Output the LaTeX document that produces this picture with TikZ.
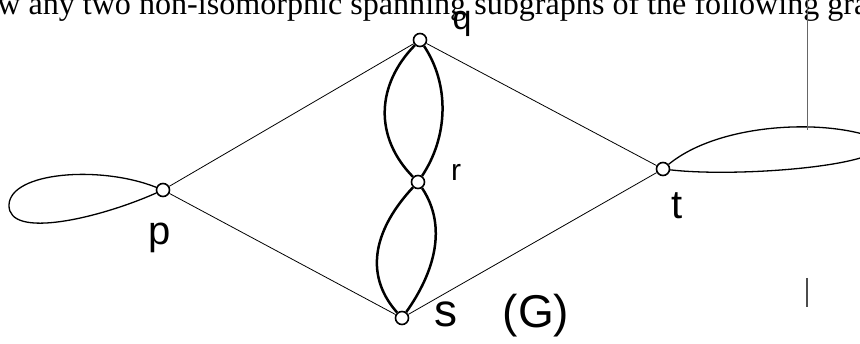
\documentclass[tikz,border=0pt]{standalone}
\usepackage{fontspec}
\setmainfont{Liberation Serif}
\newfontfamily\handfont{Liberation Sans}
\tikzset{
  vertex/.style={circle,draw,line width=1.6pt,minimum width=13pt,minimum height=11pt,inner sep=0pt},
  plain/.style={line width=0.8pt},
  thickedge/.style={line width=2.5pt},
  hand/.style={inner sep=0pt,font=\handfont\fontsize{40}{40}\selectfont}
}
\begin{document}
\begin{tikzpicture}[x=1pt,y=-1pt]

  % page frame and clip
  \useasboundingbox (0,0) rectangle (860,344);
  \clip (0,0) rectangle (860,344);

  % heading line, cut off at the top
  \node[anchor=base west,inner sep=0pt,font=\fontsize{32.1}{32}\selectfont] (head) at (-51,15)
    {Draw any two non-isomorphic spanning subgraphs of the following graph};

  % vertices
  \node[vertex] (p) at (163,190) {};
  \node[vertex] (q) at (420,40) {};
  \node[vertex] (r) at (418,182) {};
  \node[vertex] (s) at (402,318) {};
  \node[vertex] (t) at (663,169) {};

  % outer edges
  \draw[plain] (p) -- (q);
  \draw[plain] (p) -- (s);
  \draw[plain] (q) -- (t);
  \draw[plain] (s) -- (t);

  % double edges q-r and r-s
  \draw[thickedge] (q) .. controls +(-44,45) and +(-44,-45) .. (r);
  \draw[thickedge] (q) .. controls +(30,45) and +(30,-45) .. (r);
  \draw[thickedge] (r) .. controls +(-42,45) and +(-40,-45) .. (s);
  \draw[thickedge] (r) .. controls +(30,45) and +(32,-45) .. (s);

  % loops
  \draw[plain,line width=1.3pt] (p) .. controls (100,165) and (10,172) .. (9,205)
    .. controls (8,240) and (100,218) .. (p);
  \draw[plain,line width=1.3pt] (t) .. controls (720,122) and (830,118) .. (880,140)
    .. controls (900,165) and (740,178) .. (t);

  % stray vertical rule
  \draw[line width=0.8pt,black!60] (807,0) -- (807,130);
  \draw[line width=1.5pt,black!70] (807,278) -- (807,307);

  % labels
  \node[hand,font=\handfont\fontsize{34}{34}\selectfont] (lq) at (462,24) {q};
  \node[hand,font=\handfont\fontsize{30}{30}\selectfont] (lr) at (456,172) {r};
  \node[hand] (lp) at (160,238) {p};
  \node[hand] (lt) at (677,206) {t};
  \node[hand,font=\handfont\fontsize{46}{46}\selectfont] (ls) at (446,314) {s};
  \node[hand,font=\handfont\fontsize{46}{46}\selectfont] (lg) at (536,316) {(G)};

\end{tikzpicture}
\end{document}
